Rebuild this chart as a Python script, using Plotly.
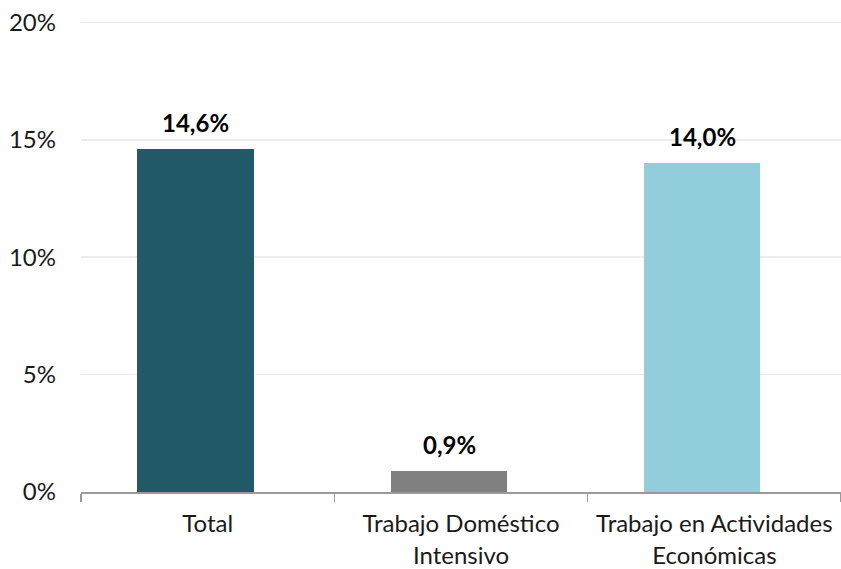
import plotly.graph_objects as go

categories = ["Total", "Trabajo Doméstico<br>Intensivo", "Trabajo en Actividades<br>Económicas"]
values = [14.6, 0.9, 14.0]
colors = ["#235A68", "#808080", "#92CDDC"]
y_ticks = [0, 5, 10, 15, 20]
y_tick_labels = [f"{t}%" for t in y_ticks]

labels = [f"{v:.1f}%".replace(".", ",") for v in values]

FONT = "Lato, Carlito, sans-serif"

fig = go.Figure()
fig.add_trace(go.Bar(
    x=categories,
    y=values,
    marker=dict(color=colors, line=dict(width=0)),
    width=0.46,
    offset=-0.278,
    hoverinfo="skip",
))

for c, v, t in zip(categories, values, labels):
    fig.add_annotation(
        x=c, y=v, text=f"<b>{t}</b>", showarrow=False,
        xref="x", yref="y", yanchor="bottom", yshift=10, xshift=-12,
        font=dict(family=FONT, size=24, color="#000000"),
    )

fig.update_layout(
    width=841, height=569,
    margin=dict(l=81, r=0, t=20, b=77, autoexpand=False),
    paper_bgcolor="white", plot_bgcolor="white",
    showlegend=False,
    font=dict(family=FONT, size=24, color="#1a1a1a"),
    bargap=0,
)
fig.update_xaxes(
    range=[-0.5, 2.5],
    automargin=False,
    showline=True, linecolor="#9a9a9a", linewidth=1.5,
    ticks="outside", tickson="boundaries", ticklen=8, tickcolor="#9a9a9a", tickwidth=1.5,
    showgrid=False,
    tickfont=dict(family=FONT, size=24, color="#1a1a1a"),
    ticklabelstandoff=10,
)
fig.update_yaxes(
    range=[0, 20.1],
    automargin=False,
    tickvals=y_ticks, ticktext=y_tick_labels,
    showgrid=True, gridcolor="#ececec", gridwidth=1.5,
    zeroline=False, showline=False,
    ticks="",
    tickfont=dict(family=FONT, size=24, color="#1a1a1a"),
    ticklabelstandoff=24,
    ticklabeloverflow="allow",
)

fig.write_html(
    "out.html",
    config={"displayModeBar": False, "staticPlot": True},
    post_script="document.body.style.margin='0';document.body.style.overflow='hidden';",
)
